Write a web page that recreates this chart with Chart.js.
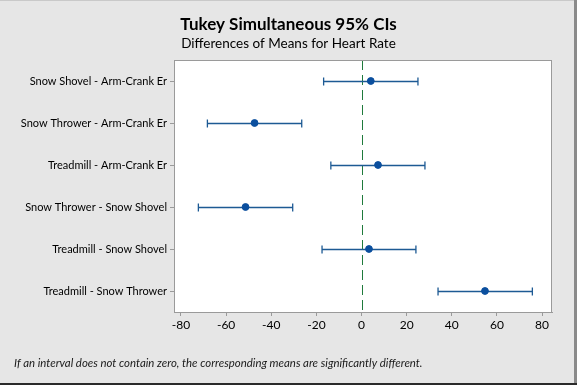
<!DOCTYPE html>
<html>
<head>
<meta charset="utf-8">
<script src="https://cdn.jsdelivr.net/npm/chart.js@4.4.1/dist/chart.umd.min.js"></script>
<style>
  body { margin: 0; background: #e6e6e6; }
  canvas { display: block; }
</style>
</head>
<body>
<canvas id="chart" width="577" height="385"></canvas>
<script>
// comparisons, top to bottom
var comparisons = [
    'Snow Shovel - Arm-Crank Er',
    'Snow Thrower - Arm-Crank Er',
    'Treadmill - Arm-Crank Er',
    'Snow Thrower - Snow Shovel',
    'Treadmill - Snow Shovel',
    'Treadmill - Snow Thrower'
];
var diffMeans = [4.1, -47.4, 7.3, -51.4, 3.3, 54.7];
var lowerCI   = [-16.8, -68.3, -13.6, -72.3, -17.5, 33.9];
var upperCI   = [25.0, -26.5, 28.1, -30.5, 24.1, 75.7];
var xTicks    = [-80, -60, -40, -20, 0, 20, 40, 60, 80];

var titleText = 'Tukey Simultaneous 95% CIs';
var subtitleText = 'Differences of Means for Heart Rate';
var noteText = 'If an interval does not contain zero, the corresponding means are significantly different.';

var FONT = 'Lato';
var lineColor = '#1d5a94';
var pointColor = '#0b4f9e';

// background, plot box, window frame
var backgroundPlugin = {
    id: 'background',
    beforeDraw: function (chart) {
        var ctx = chart.ctx, a = chart.chartArea;
        ctx.save();
        ctx.fillStyle = '#e6e6e6';
        ctx.fillRect(0, 0, chart.width, chart.height);
        ctx.fillStyle = '#ffffff';
        ctx.fillRect(a.left, a.top, a.right - a.left, a.bottom - a.top);
        // frame
        ctx.fillStyle = '#c9c9c9';
        ctx.fillRect(0, 0, chart.width, 1);
        ctx.fillStyle = '#8a8a8a';
        ctx.fillRect(chart.width - 3, 0, 3, chart.height);
        ctx.fillStyle = '#2a2a2a';
        ctx.fillRect(0, chart.height - 2, chart.width, 2);
        ctx.restore();
    },
    afterDraw: function (chart) {
        var ctx = chart.ctx, a = chart.chartArea;
        ctx.save();
        ctx.strokeStyle = '#9a9a9a';
        ctx.lineWidth = 1;
        ctx.strokeRect(Math.round(a.left) + 0.5, Math.round(a.top) + 0.5,
            Math.round(a.right - a.left) - 1, Math.round(a.bottom - a.top));
        // titles and footnote
        ctx.fillStyle = '#000';
        ctx.textAlign = 'center';
        ctx.textBaseline = 'alphabetic';
        ctx.font = 'bold 17px ' + FONT;
        ctx.fillText(titleText, chart.width / 2, 30);
        ctx.font = '13.5px ' + FONT;
        ctx.fillText(subtitleText, chart.width / 2, 48);
        ctx.textAlign = 'left';
        ctx.font = 'italic 11.4px ' + FONT;
        ctx.fillStyle = '#1a1a1a';
        ctx.fillText(noteText, 14, 367);
        ctx.restore();
    }
};

// zero reference line and the interval bars
var intervalPlugin = {
    id: 'intervals',
    beforeDatasetsDraw: function (chart) {
        var ctx = chart.ctx, a = chart.chartArea;
        var xs = chart.scales.x, ys = chart.scales.y;
        ctx.save();
        var x0 = Math.round(xs.getPixelForValue(0)) + 0.5;
        ctx.strokeStyle = '#1f7a3c';
        ctx.lineWidth = 1;
        ctx.setLineDash([10, 5]);
        ctx.beginPath();
        ctx.moveTo(x0, a.top);
        ctx.lineTo(x0, a.bottom);
        ctx.stroke();
        ctx.setLineDash([]);

        ctx.strokeStyle = lineColor;
        ctx.lineWidth = 1.3;
        for (var i = 0; i < comparisons.length; i++) {
            var y = Math.round(ys.getPixelForValue(i)) + 0.5;
            var xl = xs.getPixelForValue(lowerCI[i]);
            var xu = xs.getPixelForValue(upperCI[i]);
            ctx.beginPath();
            ctx.moveTo(xl, y);
            ctx.lineTo(xu, y);
            ctx.moveTo(xl, y - 4);
            ctx.lineTo(xl, y + 4);
            ctx.moveTo(xu, y - 4);
            ctx.lineTo(xu, y + 4);
            ctx.stroke();
        }
        ctx.restore();
    }
};

new Chart(document.getElementById('chart'), {
    type: 'scatter',
    data: {
        labels: comparisons,
        datasets: [{
            data: diffMeans.map(function (v, i) { return { x: v, y: comparisons[i] }; }),
            backgroundColor: pointColor,
            borderColor: pointColor,
            pointRadius: 3.4,
            pointHoverRadius: 3.4
        }]
    },
    options: {
        responsive: false,
        animation: false,
        layout: { padding: { top: 60, right: 25, left: 0, bottom: 0 } },
        plugins: {
            legend: { display: false },
            tooltip: { enabled: false }
        },
        scales: {
            x: {
                type: 'linear',
                min: -83.1,
                max: 84.4,
                afterFit: function (scale) { scale.height = 73; },
                afterBuildTicks: function (scale) {
                    scale.ticks = xTicks.map(function (v) { return { value: v }; });
                },
                grid: { drawOnChartArea: false, drawTicks: true, tickLength: 4, color: '#9a9a9a' },
                border: { display: true, color: '#9a9a9a' },
                ticks: { color: '#000', padding: 2, font: { family: FONT, size: 12 } }
            },
            y: {
                type: 'category',
                labels: comparisons,
                offset: true,
                afterFit: function (scale) { scale.width = 174; },
                grid: { offset: false, drawOnChartArea: false, drawTicks: true, tickLength: 4, color: '#9a9a9a' },
                border: { display: true, color: '#9a9a9a' },
                ticks: { color: '#000', padding: 3, font: { family: FONT, size: 11 } }
            }
        }
    },
    plugins: [backgroundPlugin, intervalPlugin]
});
</script>
</body>
</html>
